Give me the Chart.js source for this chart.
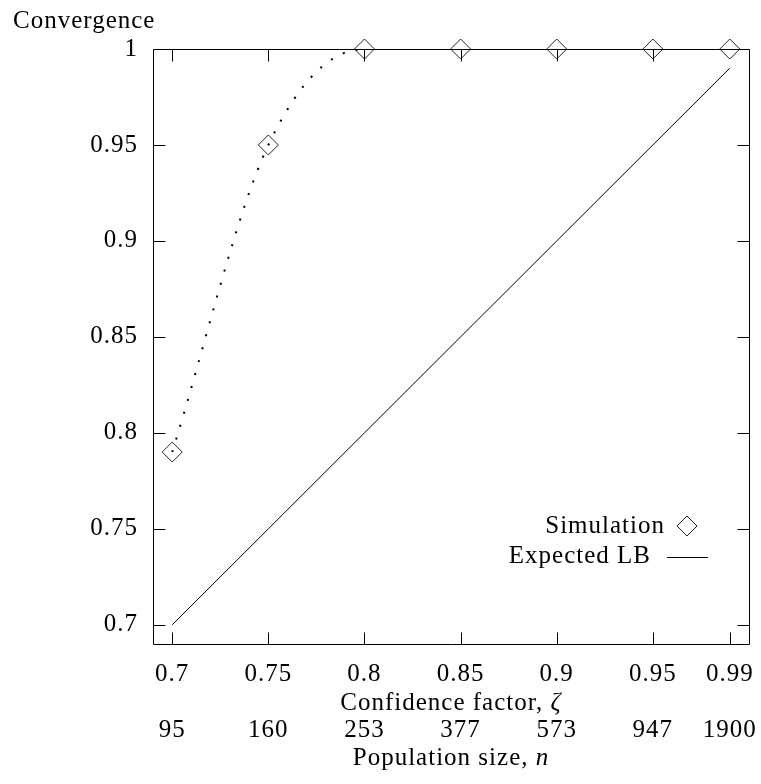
<!DOCTYPE html>
<html>
<head>
<meta charset="utf-8">
<script src="https://cdn.jsdelivr.net/npm/chart.js@4.4.1/dist/chart.umd.min.js"></script>
<style>
body { margin: 0; background: #fff; }
#chart1 { display: block; }
</style>
</head>
<body>
<canvas id="chart1" width="761" height="784"></canvas>
<script>
const confidence = [0.7, 0.75, 0.8, 0.85, 0.9, 0.95, 0.99];
const xLabels = ['0.7', '0.75', '0.8', '0.85', '0.9', '0.95', '0.99'];
const population = ['95', '160', '253', '377', '573', '947', '1900'];
const simulation = [0.79, 0.95, 1, 1, 1, 1, 1];
const expectedLB = [0.7, 0.75, 0.8, 0.85, 0.9, 0.95, 0.99];
const yTicks = [0.7, 0.75, 0.8, 0.85, 0.9, 0.95, 1];
const yLabels = ['0.7', '0.75', '0.8', '0.85', '0.9', '0.95', '1'];

const FONT = "'Liberation Serif', 'DejaVu Serif', serif";
const FSIZE = 25;
Chart.defaults.font.family = FONT;
Chart.defaults.font.size = FSIZE;
Chart.defaults.color = '#000';

function drawMixed(ctx, plain, ital, cx, cy) {
    ctx.font = `${FSIZE}px ${FONT}`;
    const w1 = ctx.measureText(plain).width;
    ctx.font = `italic ${FSIZE}px ${FONT}`;
    const w2 = ctx.measureText(ital).width;
    const x0 = cx - (w1 + w2) / 2;
    ctx.textBaseline = 'middle';
    ctx.textAlign = 'left';
    ctx.font = `${FSIZE}px ${FONT}`;
    ctx.fillText(plain, x0, cy);
    ctx.font = `italic ${FSIZE}px ${FONT}`;
    ctx.fillText(ital, x0 + w1, cy);
}

// gnuplot look: closed frame, inward ticks on all sides, axis titles, key inside
const gnuplotFrame = {
    id: 'gnuplotFrame',
    beforeUpdate(chart) {
        chart.ctx.letterSpacing = '1px';
    },
    beforeDraw(chart) {
        chart.ctx.letterSpacing = '1px';
    },
    afterDraw(chart) {
        const ctx = chart.ctx;
        const a = chart.chartArea;
        const x = chart.scales.x, y = chart.scales.y, x2 = chart.scales.x2;
        const L = Math.round(a.left) + 0.5, R = Math.round(a.right) + 0.5;
        const T = Math.round(a.top) + 0.5, B = Math.round(a.bottom) + 0.5;
        ctx.save();
        ctx.strokeStyle = '#000';
        ctx.lineWidth = 1;
        ctx.beginPath();
        ctx.rect(L, T, R - L, B - T);
        confidence.forEach((c, i) => {
            const px = Math.round(x.getPixelForValue(c)) + 0.5;
            ctx.moveTo(px, B);
            ctx.lineTo(px, B - 12);
            if (i < confidence.length - 1) {
                ctx.moveTo(px, T);
                ctx.lineTo(px, T + 12);
            }
        });
        yTicks.forEach(v => {
            const py = Math.round(y.getPixelForValue(v)) + 0.5;
            ctx.moveTo(L, py);
            ctx.lineTo(L + 12, py);
            ctx.moveTo(R, py);
            ctx.lineTo(R - 12, py);
        });
        ctx.stroke();

        ctx.fillStyle = '#000';
        const cx = (a.left + a.right) / 2;
        drawMixed(ctx, 'Confidence factor, ', 'ζ', cx, x.bottom - 12);
        drawMixed(ctx, 'Population size, ', 'n', cx, x2.bottom - 12);

        // key
        const sim = chart.data.datasets[1], lb = chart.data.datasets[2];
        const ky1 = a.bottom - 118, ky2 = a.bottom - 88;
        ctx.font = `${FSIZE}px ${FONT}`;
        ctx.textAlign = 'right';
        ctx.textBaseline = 'middle';
        ctx.fillText(sim.label, a.right - 84, ky1);
        ctx.fillText(lb.label, a.right - 98, ky2);
        const mx = a.right - 62;
        ctx.strokeStyle = sim.pointBorderColor;
        ctx.beginPath();
        ctx.moveTo(mx - 10, ky1);
        ctx.lineTo(mx, ky1 - 10);
        ctx.lineTo(mx + 10, ky1);
        ctx.lineTo(mx, ky1 + 10);
        ctx.closePath();
        ctx.stroke();
        ctx.strokeStyle = lb.borderColor;
        ctx.beginPath();
        ctx.moveTo(a.right - 82, Math.round(ky2) + 1.5);
        ctx.lineTo(a.right - 41, Math.round(ky2) + 1.5);
        ctx.stroke();
        ctx.restore();
    }
};

const simPoints = confidence.map((c, i) => ({ x: c, y: simulation[i] }));

const data = {
    datasets: [
        {
            label: 'Simulation',
            data: simPoints,
            borderColor: '#000',
            borderWidth: 2,
            borderDash: [2, 11.4],
            borderCapStyle: 'butt',
            cubicInterpolationMode: 'monotone',
            pointRadius: 0,
            clip: 0,
        },
        {
            label: 'Simulation',
            data: simPoints,
            showLine: false,
            pointStyle: 'rectRot',
            pointRadius: 10,
            pointBorderWidth: 1,
            pointBorderColor: '#222',
            pointBackgroundColor: 'rgba(0,0,0,0)',
            clip: false,
        },
        {
            label: 'Expected LB',
            data: confidence.map((c, i) => ({ x: c, y: expectedLB[i] })),
            borderColor: '#000',
            borderWidth: 1,
            pointRadius: 0,
            tension: 0,
        }
    ]
};

const config = {
    type: 'line',
    data: data,
    options: {
        responsive: false,
        devicePixelRatio: 1,
        animation: false,
        layout: { padding: { left: 13, right: 12, top: 0, bottom: 14 } },
        plugins: {
            legend: { display: false },
            tooltip: { enabled: false },
            title: {
                display: true,
                text: 'Convergence',
                align: 'start',
                font: { size: FSIZE, weight: 'normal', lineHeight: 1.2 },
                padding: { top: 6, bottom: 13 }
            }
        },
        scales: {
            x: {
                type: 'linear',
                position: 'bottom',
                weight: 0,
                min: 0.69,
                max: 1.0,
                afterBuildTicks: s => { s.ticks = confidence.map(v => ({ value: v })); },
                afterFit: s => { s.height = 71; s.paddingLeft = 0; s.paddingRight = 0; },
                ticks: {
                    callback: (v, i) => xLabels[i],
                    padding: 18,
                    autoSkip: false,
                    maxRotation: 0,
                    font: { lineHeight: 1 }
                },
                grid: { display: false, drawTicks: false },
                border: { display: false }
            },
            x2: {
                type: 'linear',
                position: 'bottom',
                weight: 1,
                min: 0.69,
                max: 1.0,
                afterBuildTicks: s => { s.ticks = confidence.map(v => ({ value: v })); },
                afterFit: s => { s.height = 55; s.paddingLeft = 0; s.paddingRight = 0; },
                ticks: {
                    callback: (v, i) => population[i],
                    padding: 3,
                    autoSkip: false,
                    maxRotation: 0,
                    font: { lineHeight: 1 }
                },
                grid: { display: false, drawTicks: false },
                border: { display: false }
            },
            y: {
                type: 'linear',
                min: 0.69,
                max: 1.0,
                afterBuildTicks: s => { s.ticks = yTicks.map(v => ({ value: v })); },
                afterFit: s => { s.width = 140; s.paddingTop = 0; s.paddingBottom = 0; },
                ticks: {
                    callback: (v, i) => yLabels[i],
                    padding: 15,
                    autoSkip: false
                },
                grid: { display: false, drawTicks: false },
                border: { display: false }
            }
        }
    },
    plugins: [gnuplotFrame]
};

const chart1 = new Chart(document.getElementById('chart1'), config);
</script>
</body>
</html>
